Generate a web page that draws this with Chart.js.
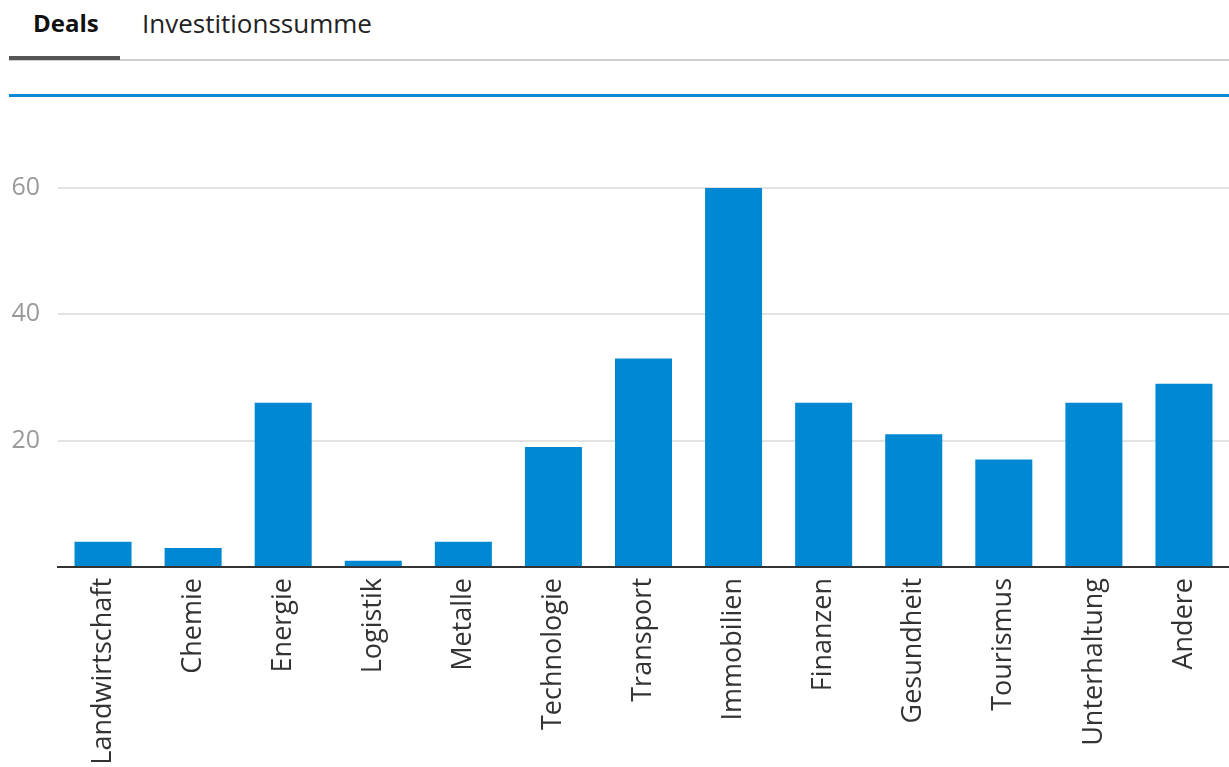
<!DOCTYPE html>
<html>
<head>
<meta charset="utf-8">
<script src="https://cdn.jsdelivr.net/npm/chart.js@4"></script>
<style>
  html, body { margin: 0; padding: 0; background: #fff; }
  body { width: 1229px; height: 767px; position: relative; overflow: hidden; font-family: "Open Sans", sans-serif; }
  .tabs { position: absolute; left: 9px; top: 0; width: 1220px; height: 61px; border-bottom: 2px solid #d0d0d0; box-sizing: border-box; }
  .tab { position: absolute; top: 3px; font-size: 26px; color: #222; line-height: 40px; }
  .tab.active { left: 24px; font-weight: bold; font-size: 24px; color: #111; }
  .tab.other { left: 133px; }
  .tabline { position: absolute; left: 0; top: 56px; width: 111px; height: 4px; background: #555; }
  .blueline { position: absolute; left: 9px; top: 94px; width: 1220px; height: 3px; background: #0a8ad6; }
  .wrap { position: absolute; left: 0; top: 100px; width: 1229px; height: 667px; }
</style>
</head>
<body>
<div class="tabs">
  <div class="tab active">Deals</div>
  <div class="tab other">Investitionssumme</div>
  <div class="tabline"></div>
</div>
<div class="blueline"></div>
<div class="wrap"><canvas id="dealsChart"></canvas></div>
<script>
const categories = ['Landwirtschaft', 'Chemie', 'Energie', 'Logistik', 'Metalle', 'Technologie',
  'Transport', 'Immobilien', 'Finanzen', 'Gesundheit', 'Tourismus', 'Unterhaltung', 'Andere'];
const deals = [4, 3, 26, 1, 4, 19, 33, 60, 26, 21, 17, 26, 29];
const yTicks = [0, 20, 40, 60];

const colors = {
  bar: '#0088d2',
  text: '#333333',
  tick: '#9a9a9a',
  grid: '#e3e3e3',
  axis: '#333333',
};

new Chart(document.getElementById('dealsChart'), {
  type: 'bar',
  data: {
    labels: categories,
    datasets: [{
      label: 'Deals',
      data: deals,
      backgroundColor: colors.bar,
      categoryPercentage: 1,
      barPercentage: 0.633,
    }],
  },
  options: {
    responsive: true,
    maintainAspectRatio: false,
    animation: false,
    layout: { padding: { top: 17, right: 0, left: 0, bottom: 0 } },
    plugins: {
      legend: { display: false },
      tooltip: { enabled: false },
    },
    scales: {
      x: {
        afterFit: (axis) => { axis.height = 200; },
        grid: { display: false },
        border: { color: colors.axis, width: 2 },
        ticks: {
          color: colors.text,
          font: { family: 'Open Sans', size: 27 },
          maxRotation: 90,
          minRotation: 90,
          padding: 3,
        },
      },
      y: {
        min: 0,
        max: 68.7,
        afterFit: (axis) => { axis.width = 58; },
        afterBuildTicks: (axis) => { axis.ticks = yTicks.map((v) => ({ value: v })); },
        border: { display: false },
        grid: {
          color: (ctx) => (ctx.tick && ctx.tick.value === 0 ? 'rgba(0,0,0,0)' : colors.grid),
          lineWidth: 2,
          drawTicks: false,
        },
        ticks: {
          color: colors.tick,
          font: { family: 'Open Sans', size: 25 },
          padding: 18,
          callback: (v) => (v === 0 ? '' : v),
        },
      },
    },
  },
});
</script>
</body>
</html>
